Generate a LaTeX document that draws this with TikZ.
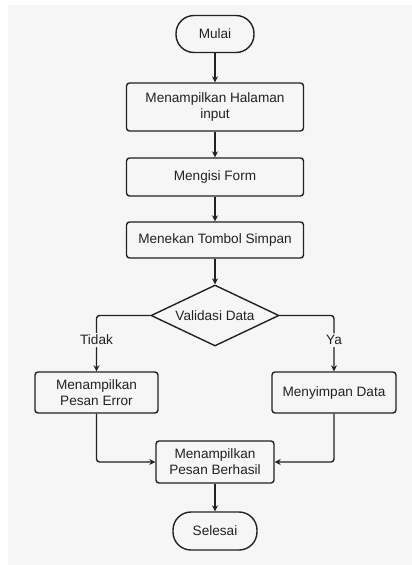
\documentclass[tikz,border=0pt]{standalone}
\usepackage{fontspec}
\setmainfont{Liberation Sans}
\usetikzlibrary{shapes.geometric,arrows.meta}

\definecolor{bgpaper}{HTML}{F6F6F6}
\definecolor{ink}{HTML}{222222}

\begin{document}
\begin{tikzpicture}[x=1pt,y=-1pt,
  every node/.style={font=\fontsize{13.6}{16}\selectfont,text=ink,align=center},
  proc/.style={draw=ink,fill=bgpaper,line width=1.4pt,rounded corners=3pt,inner sep=0pt},
  term/.style={draw=ink,fill=bgpaper,line width=1.4pt,rounded corners=18pt,inner sep=0pt,minimum height=37pt},
  decision/.style={diamond,draw=ink,fill=bgpaper,line width=1.4pt,inner sep=0pt,aspect=2,minimum width=128pt,minimum height=61pt},
  flow/.style={draw=ink,line width=1.4pt,-{Stealth[length=6pt,width=6pt]}},
  lbl/.style={fill=bgpaper,inner sep=2pt}]
\useasboundingbox (0,0) rectangle (412,565);
\fill[bgpaper] (8,5) rectangle (412,565);
% nodes
\node[term,minimum width=78pt] (mulai) at (215,34) {Mulai};
\node[proc,minimum width=177pt,minimum height=48pt] (halaman) at (215,107) {Menampilkan Halaman\\input};
\node[proc,minimum width=177pt,minimum height=38pt] (form) at (215,177) {Mengisi Form};
\node[proc,minimum width=177pt,minimum height=36pt] (simpan) at (215,240) {Menekan Tombol Simpan};
\node[decision] (valid) at (215,315.5) {Validasi Data};
\node[proc,minimum width=123pt,minimum height=41pt] (error) at (96.5,392.5) {Menampilkan\\Pesan Error};
\node[proc,minimum width=124pt,minimum height=41pt] (data) at (334,392.5) {Menyimpan Data};
\node[proc,minimum width=118pt,minimum height=42pt] (hasil) at (215,462) {Menampilkan\\Pesan Berhasil};
\node[term,minimum width=84pt,minimum height=38pt] (selesai) at (215,531) {Selesai};
% connectors
\draw[flow] (mulai) -- (halaman);
\draw[flow] (halaman) -- (form);
\draw[flow] (form) -- (simpan);
\draw[flow] (simpan) -- (valid);
\draw[flow,rounded corners=3pt] (valid.west) -| node[lbl,pos=0.72] {Tidak} (error.north);
\draw[flow,rounded corners=3pt] (valid.east) -| node[lbl,pos=0.72] {Ya} (data.north);
\draw[flow,rounded corners=3pt] (error.south) |- (hasil.west);
\draw[flow,rounded corners=3pt] (data.south) |- (hasil.east);
\draw[flow] (hasil) -- (selesai);
\end{tikzpicture}
\end{document}
